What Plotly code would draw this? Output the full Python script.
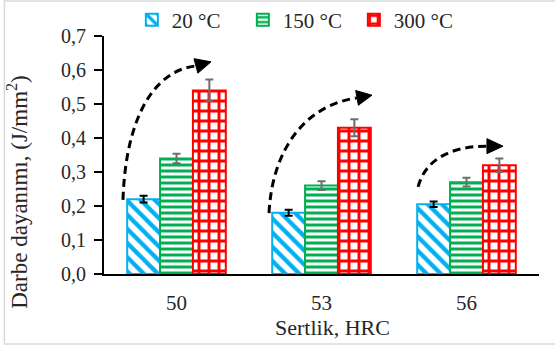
import plotly.graph_objects as go

categories = ["50", "53", "56"]
series_names = ["20 °C", "150 °C", "300 °C"]
v20 = [0.22, 0.18, 0.205]
v150 = [0.34, 0.26, 0.27]
v300 = [0.54, 0.43, 0.32]
e20 = [0.01, 0.009, 0.008]
e150 = [0.014, 0.013, 0.013]
e300 = [0.032, 0.025, 0.02]
y_ticks = [0.0, 0.1, 0.2, 0.3, 0.4, 0.5, 0.6, 0.7]
x_title = "Sertlik, HRC"
y_title = "Darbe dayanımı, (J/mm<sup>2</sup>)"

FONT = "Liberation Serif"
TXT = "#262626"
colors = ["#00B0F0", "#00B050", "#FF0000"]
errcolors = ["#000000", "#6E6E6E", "#6E6E6E"]
patterns = [
    dict(shape="\\", size=10, solidity=0.42, fgcolor=colors[0], bgcolor="white", fgopacity=1),
    dict(shape="-", size=6, solidity=0.5, fgcolor=colors[1], bgcolor="white", fgopacity=1),
    dict(shape="+", size=10, solidity=0.5, fgcolor=colors[2], bgcolor="white", fgopacity=1),
]

xpos = list(range(len(categories)))
fig = go.Figure()
for name, vals, errs, c, ec, pat in zip(series_names, [v20, v150, v300], [e20, e150, e300],
                                        colors, errcolors, patterns):
    fig.add_trace(go.Bar(
        x=xpos, y=vals, name=name,
        marker=dict(color="white", line=dict(color=c, width=2), pattern=pat),
        error_y=dict(type="data", array=errs, color=ec, thickness=2, width=4),
    ))

# dashed curved arrows (decoration): cubic path + filled triangular head
PX_X, PX_Y = 145.0, 340.0  # approx pixels per data unit, for head geometry
arrows = [
    # (P0, P1, P2, P3(base of head), tip)
    ((-0.369, 0.218), (-0.35, 0.47), (-0.14, 0.60), (0.134, 0.612), (0.238, 0.624)),
    ((0.638, 0.179), (0.659, 0.365), (0.886, 0.497), (1.245, 0.518), (1.348, 0.526)),
    ((1.666, 0.256), (1.714, 0.335), (1.886, 0.376), (2.141, 0.376), (2.252, 0.376)),
]
shapes = []
for p0, p1, p2, p3, tip in arrows:
    path = f"M {p0[0]},{p0[1]} C {p1[0]},{p1[1]} {p2[0]},{p2[1]} {p3[0]},{p3[1]}"
    shapes.append(dict(type="path", path=path, xref="x", yref="y",
                       line=dict(color="black", width=3, dash="8px,5px")))
    dx = (tip[0] - p3[0]) * PX_X
    dy = (tip[1] - p3[1]) * PX_Y
    n = (dx * dx + dy * dy) ** 0.5
    hw = 7.5
    ox, oy = -dy / n * hw / PX_X, dx / n * hw / PX_Y
    tri = (f"M {tip[0]},{tip[1]} L {p3[0] + ox},{p3[1] + oy} "
           f"L {p3[0] - ox},{p3[1] - oy} Z")
    shapes.append(dict(type="path", path=tri, xref="x", yref="y",
                       fillcolor="black", line=dict(color="black", width=1)))

# outer light-gray frame
shapes.append(dict(type="rect", xref="paper", yref="paper", x0=-0.229, x1=1.2, y0=-0.294, y1=1.147,
                   line=dict(color="#D9D9D9", width=1.5), layer="below"))

annotations = [
    dict(text=x_title, xref="paper", yref="paper", x=0.525, y=-0.223, xanchor="center",
         yanchor="middle", showarrow=False, font=dict(family=FONT, size=22, color=TXT)),
    dict(text=y_title, xref="paper", yref="paper", x=-0.198, y=0.345, xanchor="center",
         yanchor="middle", textangle=-90, showarrow=False,
         font=dict(family=FONT, size=23, color=TXT)),
]

fig.update_layout(
    width=555, height=351,
    margin=dict(l=104, r=16, t=36, b=77, autoexpand=False),
    paper_bgcolor="white", plot_bgcolor="white",
    barmode="group", bargap=0.32, bargroupgap=0,
    separators=", ",
    font=dict(family=FONT, size=20, color=TXT),
    showlegend=True,
    legend=dict(orientation="h", x=0.064, xanchor="left", y=1.067, yanchor="middle",
                font=dict(family=FONT, size=21, color=TXT), itemwidth=30,
                entrywidth=66, bgcolor="rgba(0,0,0,0)"),
    shapes=shapes, annotations=annotations,
)
fig.update_xaxes(range=[-0.5, 2.5], tickvals=xpos, ticktext=categories, showgrid=False,
                 zeroline=False, showline=True, linecolor="black", linewidth=2, ticks="",
                 ticklabelstandoff=9, tickfont=dict(family=FONT, size=21, color=TXT))
fig.update_yaxes(range=[0, 0.7], tickvals=y_ticks, tickformat=".1f", showgrid=False,
                 zeroline=False, showline=True, linecolor="black", linewidth=2,
                 ticks="outside", ticklen=8, tickwidth=2, tickcolor="black",
                 ticklabelstandoff=4, tickfont=dict(family=FONT, size=20, color=TXT))

fig.write_html("out.html", config={"displayModeBar": False},
               post_script="document.body.style.margin='0';")
